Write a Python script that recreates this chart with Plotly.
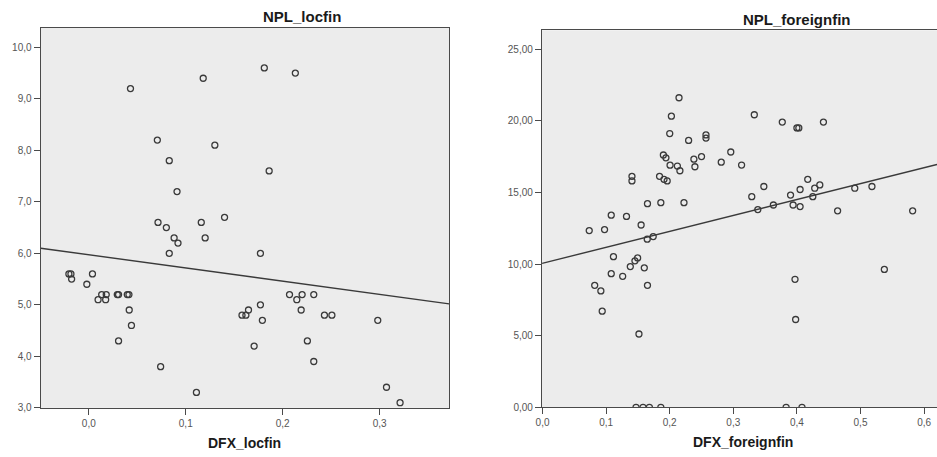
import plotly.graph_objects as go

# ---- Left panel data: DFX_locfin vs NPL_locfin ----
loc_x = [0.043, 0.118, 0.181, 0.213, 0.0707, 0.130, 0.083, 0.186, 0.091,
         0.0714, 0.080, 0.116, 0.140, 0.088, 0.092, 0.120, 0.083, 0.177,
         -0.0205, -0.0184, -0.0177, 0.0038, -0.002, 0.0133, 0.018, 0.0096, 0.0174,
         0.0294, 0.0307, 0.0397, 0.0414, 0.0417, 0.044, 0.0307, 0.0741, 0.111,
         0.158, 0.162, 0.1647, 0.177, 0.179, 0.1705,
         0.207, 0.2145, 0.220, 0.219, 0.232, 0.2254, 0.232,
         0.243, 0.2507, 0.298, 0.307, 0.321]
loc_y = [9.2, 9.4, 9.6, 9.5, 8.2, 8.1, 7.8, 7.6, 7.2,
         6.6, 6.5, 6.6, 6.7, 6.3, 6.2, 6.3, 6.0, 6.0,
         5.6, 5.6, 5.5, 5.6, 5.4, 5.2, 5.2, 5.1, 5.1,
         5.2, 5.2, 5.2, 5.2, 4.9, 4.6, 4.3, 3.8, 3.3,
         4.8, 4.8, 4.9, 5.0, 4.7, 4.2,
         5.2, 5.1, 5.2, 4.9, 5.2, 4.3, 3.9,
         4.8, 4.8, 4.7, 3.4, 3.1]
loc_fit_intercept = 5.973
loc_fit_slope = -2.565

# ---- Right panel data: DFX_foreignfin vs NPL_foreignfin ----
for_x = [0.2146, 0.2026, 0.333, 0.377, 0.400, 0.403, 0.4417, 0.200, 0.2297,
         0.257, 0.257, 0.296, 0.190, 0.194, 0.250, 0.238, 0.281, 0.313,
         0.2005, 0.212, 0.216, 0.2396, 0.1406, 0.1406, 0.184, 0.191, 0.196,
         0.165, 0.186, 0.2224, 0.348, 0.417, 0.436, 0.428, 0.405, 0.491,
         0.518, 0.329, 0.390, 0.425, 0.3385, 0.363, 0.394, 0.405, 0.464,
         0.582, 0.108, 0.132, 0.155, 0.0734, 0.0975, 0.1646, 0.1740, 0.1115,
         0.1495, 0.1453, 0.138, 0.160, 0.108, 0.126, 0.082, 0.0917, 0.165,
         0.0938, 0.1516, 0.397, 0.398, 0.5375,
         0.147, 0.158, 0.168, 0.186, 0.383, 0.408]
for_y = [21.62, 20.33, 20.43, 19.92, 19.51, 19.51, 19.92, 19.12, 18.64,
         19.02, 18.80, 17.83, 17.62, 17.42, 17.51, 17.33, 17.12, 16.92,
         16.91, 16.85, 16.52, 16.80, 16.13, 15.81, 16.13, 15.92, 15.81,
         14.22, 14.29, 14.29, 15.42, 15.92, 15.53, 15.30, 15.21, 15.30,
         15.42, 14.71, 14.82, 14.71, 13.81, 14.13, 14.13, 14.02, 13.72,
         13.72, 13.42, 13.33, 12.73, 12.34, 12.41, 11.74, 11.92, 10.52,
         10.43, 10.23, 9.83, 9.74, 9.33, 9.15, 8.52, 8.13, 8.52,
         6.71, 5.12, 8.94, 6.13, 9.63,
         0.0, 0.0, 0.0, 0.0, 0.0, 0.0]
for_fit_intercept = 10.06
for_fit_slope = 11.12

# ---- Axis ranges and ticks ----
loc_xrange = [-0.0495, 0.3716]
loc_yrange = [3.0, 10.377]
loc_xticks = [0.0, 0.1, 0.2, 0.3]
loc_xticktext = ["0,0", "0,1", "0,2", "0,3"]
loc_yticks = [3, 4, 5, 6, 7, 8, 9, 10]
loc_yticktext = ["3,0", "4,0", "5,0", "6,0", "7,0", "8,0", "9,0", "10,0"]

for_xrange = [-0.0008, 0.6203]
for_yrange = [0.0, 26.33]
for_xticks = [0.0, 0.1, 0.2, 0.3, 0.4, 0.5, 0.6]
for_xticktext = ["0,0", "0,1", "0,2", "0,3", "0,4", "0,5", "0,6"]
for_yticks = [0, 5, 10, 15, 20, 25]
for_yticktext = ["0,00", "5,00", "10,00", "15,00", "20,00", "25,00"]

W, H = 937, 457
INK = "#3a3a3a"
FRAME = "#4a4a4a"
PLOTBG = "#ececec"
FONT = "Liberation Sans, Arial, sans-serif"

marker = dict(symbol="circle-open", size=6, color=INK, line=dict(width=1.3, color=INK))

fig = go.Figure()
fig.add_trace(go.Scatter(x=loc_x, y=loc_y, mode="markers", marker=marker,
                         xaxis="x", yaxis="y", showlegend=False))
fig.add_trace(go.Scatter(
    x=loc_xrange,
    y=[loc_fit_intercept + loc_fit_slope * v for v in loc_xrange],
    mode="lines", line=dict(color=INK, width=1.4),
    xaxis="x", yaxis="y", showlegend=False))

fig.add_trace(go.Scatter(x=for_x, y=for_y, mode="markers", marker=marker,
                         xaxis="x2", yaxis="y2", showlegend=False))
fig.add_trace(go.Scatter(
    x=for_xrange,
    y=[for_fit_intercept + for_fit_slope * v for v in for_xrange],
    mode="lines", line=dict(color=INK, width=1.4),
    xaxis="x2", yaxis="y2", showlegend=False))

tickfont = dict(family=FONT, size=10, color="#555555")
common = dict(showgrid=False, zeroline=False, showline=True, linecolor=FRAME,
              linewidth=1.4, ticks="outside", ticklen=6, tickwidth=1.2,
              tickcolor=FRAME, tickfont=tickfont, fixedrange=True)

fig.update_layout(
    width=W, height=H,
    margin=dict(l=0, r=0, t=0, b=0),
    paper_bgcolor="white",
    plot_bgcolor=PLOTBG,
    font=dict(family=FONT),
    xaxis=dict(domain=[35 / W, 446 / W], range=loc_xrange, anchor="y",
               tickvals=loc_xticks, ticktext=loc_xticktext, mirror=True, **common),
    yaxis=dict(domain=[1 - 413.3 / H, 1 - 28.3 / H], range=loc_yrange, anchor="x",
               tickvals=loc_yticks, ticktext=loc_yticktext, mirror=True, **common),
    xaxis2=dict(domain=[539.5 / W, 1.0], range=for_xrange, anchor="y2",
                tickvals=for_xticks, ticktext=for_xticktext, mirror=True, **common),
    yaxis2=dict(domain=[1 - 412.7 / H, 1 - 30.7 / H], range=for_yrange, anchor="x2",
                tickvals=for_yticks, ticktext=for_yticktext, mirror=False, **common),
)

titlefont = dict(family=FONT, size=15, color="#1a1a1a")
xtitlefont = dict(family=FONT, size=14, color="#1a1a1a")
annos = [
    dict(text="<b>NPL_locfin</b>", x=298 / W, y=1 - 17 / H, font=titlefont),
    dict(text="<b>NPL_foreignfin</b>", x=796 / W, y=1 - 19.5 / H, font=titlefont),
    dict(text="<b>DFX_locfin</b>", x=240.3 / W, y=1 - 449 / H, font=xtitlefont),
    dict(text="<b>DFX_foreignfin</b>", x=742 / W, y=1 - 447.5 / H, font=xtitlefont),
]
for a in annos:
    fig.add_annotation(xref="paper", yref="paper", showarrow=False,
                       xanchor="center", yanchor="middle", **a)

fig.write_html("out.html")
